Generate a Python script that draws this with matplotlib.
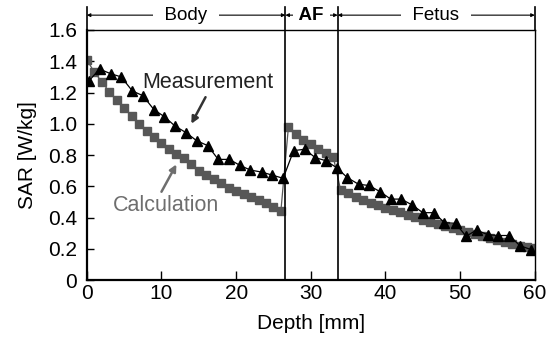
import numpy as np
import matplotlib.pyplot as plt

plt.rcParams['font.family'] = ['Liberation Sans', 'DejaVu Sans']

# calculation: one point per mm, body / amniotic fluid / fetus
calc_depth = [0, 1, 2, 3, 4, 5, 6, 7, 8, 9, 10, 11, 12, 13, 14, 15, 16, 17, 18, 19, 20,
              21, 22, 23, 24, 25, 26,
              27, 28, 29, 30, 31, 32, 33,
              34, 35, 36, 37, 38, 39, 40, 41, 42, 43, 44, 45, 46, 47, 48, 49, 50,
              51, 52, 53, 54, 55, 56, 57, 58, 59, 60]
calc_sar = [1.41, 1.33, 1.27, 1.205, 1.15, 1.10, 1.05, 1.00, 0.955, 0.913, 0.875, 0.836,
            0.806, 0.78, 0.74, 0.70, 0.67, 0.644, 0.62, 0.59, 0.57, 0.55, 0.53, 0.51,
            0.49, 0.47, 0.445,
            0.977, 0.934, 0.896, 0.868, 0.838, 0.815, 0.79,
            0.576, 0.555, 0.533, 0.512, 0.495, 0.478, 0.463, 0.448, 0.433, 0.416, 0.401,
            0.386, 0.371, 0.358, 0.343, 0.33, 0.318, 0.306, 0.293, 0.28, 0.267, 0.256,
            0.243, 0.23, 0.218, 0.209, 0.203]

# measurement
meas_depth = [0.3, 1.7, 3.2, 4.6, 6.1, 7.5, 9.0, 10.4, 11.8, 13.3, 14.7, 16.2, 17.6, 19.1,
              20.5, 21.9, 23.4, 24.8, 26.3, 27.7, 29.2, 30.6, 32.0, 33.5, 34.9, 36.4,
              37.8, 39.3, 40.7, 42.1, 43.6, 45.0, 46.5, 47.9, 49.4, 50.8, 52.2, 53.7,
              55.1, 56.6, 58.0, 59.5]
meas_sar = [1.275, 1.35, 1.32, 1.30, 1.21, 1.18, 1.09, 1.045, 0.986, 0.943, 0.892, 0.86,
            0.772, 0.772, 0.734, 0.704, 0.691, 0.672, 0.651, 0.828, 0.837, 0.783, 0.764,
            0.718, 0.655, 0.613, 0.605, 0.565, 0.518, 0.518, 0.48, 0.431, 0.431, 0.367,
            0.363, 0.28, 0.32, 0.29, 0.285, 0.285, 0.22, 0.195]

# tissue boundaries and region labels
bounds = [0, 26.6, 33.6, 60]
regions = ['Body', 'AF', 'Fetus']

yticks = [0, 0.2, 0.4, 0.6, 0.8, 1.0, 1.2, 1.4, 1.6]
ylabels = ['0', '0.2', '0.4', '0.6', '0.8', '1.0', '1.2', '1.4', '1.6']

calc_col = '#575757'
calc_txt = '#6e6e6e'

fig = plt.figure(figsize=(5.53, 3.37), dpi=100)
ax = fig.add_axes([0.157, 0.169, 0.81, 0.742])

ax.plot(calc_depth, calc_sar, color=calc_col, lw=0.9, marker='s', ms=5.5,
        mec=calc_col, mfc=calc_col, zorder=2)
ax.plot(meas_depth, meas_sar, color='black', lw=0.9, marker='^', ms=6.5,
        mec='black', mfc='black', zorder=3)

ax.set_xlim(0, 60)
ax.set_ylim(0, 1.6)
ax.set_xticks([0, 10, 20, 30, 40, 50, 60])
ax.set_yticks(yticks)
ax.set_yticklabels(ylabels)
ax.tick_params(axis='both', direction='in', labelsize=15, width=1)
ax.tick_params(axis='x', length=6.5, pad=3)
ax.tick_params(axis='y', length=5, pad=7)
for s in ['left', 'bottom']:
    ax.spines[s].set_linewidth(1.6)
for s in ['top', 'right']:
    ax.spines[s].set_linewidth(1.0)

ax.set_xlabel('Depth [mm]', fontsize=15, labelpad=8)
ax.set_ylabel('SAR [W/kg]', fontsize=15, labelpad=8)

# boundary lines running up into the label band
ytop = 1.75
yband = 1.695
for b in bounds:
    y0 = 0 if 0 < b < 60 else 1.6
    ax.plot([b, b], [y0, ytop], color='black', lw=1.2, clip_on=False, zorder=4)

for i, name in enumerate(regions):
    x0, x1 = bounds[i], bounds[i + 1]
    ax.annotate('', xy=(x1, yband), xytext=(x0, yband), annotation_clip=False,
                arrowprops=dict(arrowstyle='<|-|>', lw=0.8, color='black',
                                mutation_scale=5, shrinkA=0, shrinkB=0))
    label = ' ' + name + ' ' if name == 'AF' else '  ' + name + '  '
    ax.text((x0 + x1) / 2, yband, label, ha='center', va='center', fontsize=13.5,
            fontweight='bold' if name == 'AF' else 'normal',
            bbox=dict(facecolor='white', edgecolor='none', pad=1.0), zorder=5)

# curve labels with arrows
ax.text(16.2, 1.267, 'Measurement', ha='center', va='center', fontsize=15.5,
        color='#222222')
ax.annotate('', xy=(14.0, 1.0), xytext=(15.9, 1.17),
            arrowprops=dict(arrowstyle='-|>', lw=1.8, color='#333333',
                            mutation_scale=10, shrinkA=0, shrinkB=0))
ax.text(10.6, 0.48, 'Calculation', ha='center', va='center', fontsize=15.5,
        color=calc_txt)
ax.annotate('', xy=(12.0, 0.74), xytext=(10.0, 0.565),
            arrowprops=dict(arrowstyle='-|>', lw=1.8, color=calc_txt,
                            mutation_scale=10, shrinkA=0, shrinkB=0))

fig.savefig('out.png', dpi=100)
